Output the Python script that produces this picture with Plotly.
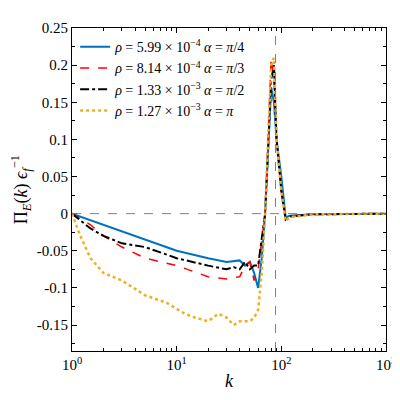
import plotly.graph_objects as go

k_blue = [1, 2, 5, 10, 20, 30, 40, 45, 50, 55, 60, 65, 70, 75, 80, 85, 90, 100, 110, 120, 200, 1000]
pi_blue = [0, -0.015, -0.035, -0.05, -0.06, -0.065, -0.063, -0.07, -0.065, -0.08, -0.1, -0.06, 0, 0.1, 0.17, 0.15, 0.1, 0.05, -0.005, -0.003, -0.001, 0]

k_red = [1, 1.5, 2, 3, 5, 10, 20, 30, 40, 45, 50, 55, 60, 70, 80, 85, 90, 100, 110, 120, 200, 1000]
pi_red = [0, -0.015, -0.03, -0.045, -0.06, -0.07, -0.085, -0.088, -0.085, -0.07, -0.065, -0.09, -0.075, 0, 0.21, 0.18, 0.1, 0.03, -0.005, -0.003, -0.001, 0]

k_black = [1, 1.5, 2, 3, 5, 10, 20, 30, 35, 40, 45, 50, 55, 60, 70, 80, 85, 90, 100, 110, 120, 200, 1000]
pi_black = [0, -0.02, -0.03, -0.04, -0.045, -0.06, -0.07, -0.075, -0.072, -0.075, -0.065, -0.075, -0.07, -0.07, 0, 0.18, 0.2, 0.1, 0.03, -0.008, -0.004, -0.001, 0]

k_orange = [1, 1.2, 1.5, 2, 3, 5, 8, 12, 15, 20, 25, 30, 35, 40, 50, 55, 60, 65, 70, 80, 85, 90, 100, 110, 120, 200, 1000]
pi_orange = [0, -0.03, -0.06, -0.08, -0.09, -0.11, -0.12, -0.135, -0.14, -0.145, -0.135, -0.14, -0.15, -0.145, -0.145, -0.14, -0.13, -0.08, 0, 0.2, 0.21, 0.1, 0.03, -0.01, -0.005, -0.001, 0]

names = ["<i>ρ</i> = 5.99 × 10<sup>−4</sup> <i>α</i> = <i>π</i>/4",
         "<i>ρ</i> = 8.14 × 10<sup>−4</sup> <i>α</i> = <i>π</i>/3",
         "<i>ρ</i> = 1.33 × 10<sup>−3</sup> <i>α</i> = <i>π</i>/2",
         "<i>ρ</i> = 1.27 × 10<sup>−3</sup> <i>α</i> = <i>π</i>"]

minor_k = [m * 10 ** d for d in range(3) for m in range(2, 10)]

fig = go.Figure()
fig.add_trace(go.Scatter(x=k_blue, y=pi_blue, mode="lines", name=names[0], line=dict(color="#0072BD", width=2)))
fig.add_trace(go.Scatter(x=k_red, y=pi_red, mode="lines", name=names[1], line=dict(color="red", width=1.5, dash="dash")))
fig.add_trace(go.Scatter(x=k_black, y=pi_black, mode="lines", name=names[2], line=dict(color="black", width=2, dash="dashdot")))
fig.add_trace(go.Scatter(x=k_orange, y=pi_orange, mode="lines", name=names[3], line=dict(color="#EDB120", width=2.5, dash="dot")))

fig.add_hline(y=0, line=dict(color="gray", width=1, dash="dash"))
fig.add_vline(x=88, line=dict(color="gray", width=1, dash="dash"))

fig.update_layout(
    width=400, height=400, plot_bgcolor="white", paper_bgcolor="white",
    margin=dict(l=62, r=14, t=16, b=57),
    font=dict(family="Liberation Serif", size=15, color="black"),
    showlegend=True,
    legend=dict(x=0.01, y=0.99, xanchor="left", yanchor="top", bgcolor="rgba(0,0,0,0)",
                font=dict(size=14), tracegroupgap=0),
)
fig.update_xaxes(type="log", range=[0, 3], showgrid=False, showline=True, mirror="ticks",
                 linecolor="black", ticks="inside", tickcolor="black",
                 tickvals=[1, 10, 100, 1000],
                 ticktext=["10<sup>0</sup>", "10<sup>1</sup>", "10<sup>2</sup>", "10<sup>3</sup>"],
                 minor=dict(ticks="inside", ticklen=3, tickcolor="black", tickvals=minor_k, showgrid=False),
                 title=dict(text="<i>k</i>", standoff=2))
fig.update_yaxes(range=[-0.185, 0.25], showgrid=False, showline=True, mirror="ticks", zeroline=False,
                 linecolor="black", ticks="inside", tickcolor="black",
                 tickvals=[-0.15, -0.1, -0.05, 0, 0.05, 0.1, 0.15, 0.2, 0.25],
                 ticktext=["-0.15", "-0.1", "-0.05", "0", "0.05", "0.1", "0.15", "0.2", "0.25"],
                 minor=dict(ticks="inside", ticklen=3, tickcolor="black", dtick=0.025),
                 title=dict(text="Π<sub><i>E</i></sub>(<i>k</i>) <i>ϵ</i><sub><i>f</i></sub><sup>−1</sup>", standoff=4))

fig.write_html("out.html")
